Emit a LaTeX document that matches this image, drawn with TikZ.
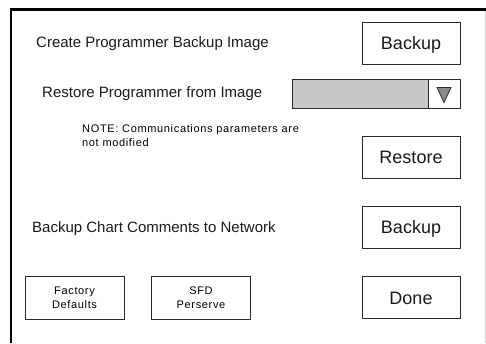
\documentclass[tikz,border=0pt]{standalone}
\usepackage{fontspec}
\setmainfont{Liberation Sans}
\newfontfamily\notefont[LetterSpace=6]{Liberation Sans}
\definecolor{ink}{HTML}{1A1A1A}
\definecolor{boxline}{HTML}{2A2A2A}
\definecolor{ddfill}{HTML}{C8C8C8}
\definecolor{trifill}{HTML}{8A8A8A}
\definecolor{edgegray}{HTML}{D0D0D0}
\begin{document}
\begin{tikzpicture}[x=1pt,y=-1pt,
  lbl/.style={anchor=base west, inner sep=0pt, text=ink, font=\fontsize{15}{18}\selectfont},
  note/.style={anchor=base west, inner sep=0pt, text=black, align=left, font=\notefont\fontsize{11}{13.5}\selectfont},
  bigbtn/.style={draw=boxline, line width=1pt, minimum width=98pt, minimum height=42pt, inner sep=0pt,
     text=ink, font=\fontsize{18}{20}\selectfont, text height=13pt, text depth=0pt},
  smallbtn/.style={draw=boxline, line width=1pt, minimum width=99pt, minimum height=43pt, inner sep=0pt,
     text=black, align=center, font=\notefont\fontsize{11}{14}\selectfont},
  dd/.style={draw=boxline, line width=1pt, fill=ddfill, minimum width=136pt, minimum height=29pt, inner sep=0pt},
  ddbtn/.style={draw=boxline, line width=1pt, fill=white, minimum width=32pt, minimum height=29pt, inner sep=0pt},
  tri/.style={draw=boxline, line width=0.8pt, fill=trifill}
]
\useasboundingbox (0,0) rectangle (486,343);
% outer frame
\coordinate (ftl) at (11,9.5);
\coordinate (ftr) at (486,9.5);
\coordinate (fbl) at (11,343);
\coordinate (rtop) at (485,10.5);
\coordinate (rbot) at (485,343);
\draw[edgegray, line width=1pt] (rtop) -- (rbot);
\draw[black, line width=2.5pt] (ftr) -- (ftl) -- (fbl);

% row 1
\node[lbl] (t1) at (36,47) {Create Programmer Backup Image};
\node[bigbtn] (b1) at (411,43) {Backup};

% row 2: dropdown
\node[lbl] (t2) at (42,97) {Restore Programmer from Image};
\node[dd] (dd) at (360,93.5) {};
\node[ddbtn] (ddb) at (444,93.5) {};
\coordinate (tria) at (437,87.5);
\coordinate (trib) at (451,87.5);
\coordinate (tric) at (444,102.5);
\draw[tri] (tria) -- (trib) -- (tric) -- cycle;

% note + restore
\node[note] (n1) at (82,146) {NOTE: Communications parameters are\\not modified};
\node[bigbtn] (b2) at (411,157) {Restore};

% row 4
\node[lbl] (t4) at (32,232) {Backup Chart Comments to Network};
\node[bigbtn] (b3) at (411,227) {Backup};

% bottom row
\node[smallbtn] (f1) at (74.5,297.5) {Factory\\Defaults};
\node[smallbtn] (f2) at (201,297.5) {SFD\\Perserve};
\node[bigbtn] (b4) at (411,297.5) {Done};
\end{tikzpicture}
\end{document}
